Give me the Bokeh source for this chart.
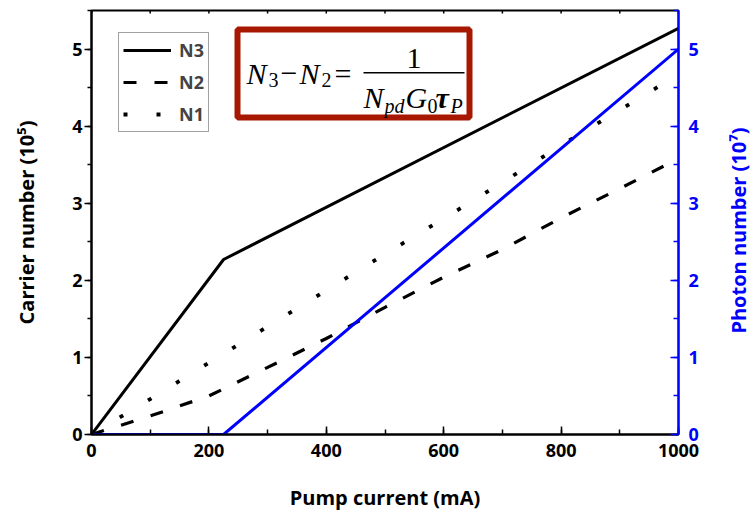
import math
from bokeh.plotting import figure
from bokeh.models import (Range1d, LinearAxis, SingleIntervalTicker, Legend,
                          LegendItem, Label, BoxAnnotation)
from bokeh.embed import file_html
from bokeh.resources import INLINE

# ---------------- data ----------------
current = [0, 100, 200, 300, 400, 500, 600, 700, 800, 900, 1000]
n1 = [0, 0.46, 0.93, 1.40, 1.87, 2.34, 2.80, 3.27, 3.75, 4.21, 4.67]
n2 = [0, 0.24, 0.50, 0.87, 1.245, 1.65, 2.04, 2.40, 2.81, 3.19, 3.58]
n3_current = [0, 225, 1000]
n3 = [0, 2.27, 5.27]
photon_current = [0, 225, 1000]
photon = [0, 0, 5.0]
top_ticks = [0, 100, 200, 300, 400, 500, 600, 700, 800, 900, 1000]

x_label = "Pump current (mA)"
y_label = "Carrier number (10\u2075)"
y2_label = "Photon number (10\u2077)"
legend_labels = ["N3", "N2", "N1"]

BLUE = "#0000FF"
FONT = "Open Sans"
Y_MAX = 5.5

p = figure(width=756, height=513,
           min_border_left=91, min_border_right=78,
           min_border_top=10, min_border_bottom=79,
           x_range=Range1d(0, 1000), y_range=Range1d(0, Y_MAX),
           output_backend="svg", toolbar_location=None,
           x_axis_location=None, y_axis_location=None)
p.grid.visible = False
p.outline_line_color = "black"
p.outline_line_width = 2
p.background_fill_color = "white"
p.border_fill_color = "white"


def style_axis(ax, color, tin, tout, mtin, mtout):
    ax.axis_line_color = color
    ax.axis_line_width = 2
    ax.major_tick_line_color = color
    ax.minor_tick_line_color = color
    ax.major_tick_line_width = 1.5
    ax.minor_tick_line_width = 1.5
    ax.major_tick_in = tin
    ax.major_tick_out = tout
    ax.minor_tick_in = mtin
    ax.minor_tick_out = mtout
    ax.major_label_text_color = color
    ax.major_label_text_font = FONT
    ax.major_label_text_font_style = "bold"
    ax.major_label_text_font_size = "18px"
    ax.axis_label_text_font = FONT
    ax.axis_label_text_font_style = "bold"
    ax.axis_label_text_font_size = "20px"
    ax.axis_label_text_color = color


xb = LinearAxis(ticker=SingleIntervalTicker(interval=200, num_minor_ticks=2))
style_axis(xb, "black", 8, 0, 5, 0)
xb.major_label_standoff = 9
xb.axis_label = x_label
xb.axis_label_standoff = 24
p.add_layout(xb, "below")

yl = LinearAxis(ticker=SingleIntervalTicker(interval=1, num_minor_ticks=2))
style_axis(yl, "black", 0, 7, 0, 4)
yl.major_label_standoff = 2
yl.axis_label = y_label
yl.axis_label_standoff = 29
p.add_layout(yl, "left")

p.extra_y_ranges = {"ph": Range1d(0, Y_MAX)}
yr = LinearAxis(y_range_name="ph",
                ticker=SingleIntervalTicker(interval=1, num_minor_ticks=2))
style_axis(yr, BLUE, 8, 0, 5, 0)
yr.major_label_standoff = 10
p.add_layout(yr, "right")

# right-hand title, reading bottom to top, placed in the right side panel
p.add_layout(Label(x=37, y=204, x_units="screen", y_units="screen",
                   text=y2_label, angle=math.pi / 2, text_align="center",
                   text_baseline="middle", text_font=FONT,
                   text_font_style="bold", text_font_size="20px",
                   text_color=BLUE), "right")

# small ticks on the top frame edge, every 100 mA
p.segment(x0=top_ticks, y0=[Y_MAX] * len(top_ticks),
          x1=top_ticks, y1=[Y_MAX - 0.04] * len(top_ticks),
          line_color="black", line_width=1.5)

# ---------------- lines ----------------
r3 = p.line(n3_current, n3, line_color="black", line_width=3)
r2 = p.line(current, n2, line_color="black", line_width=3.2,
            line_dash="13 18")
r1 = p.line(current, n1, line_color="black", line_width=3.8,
            line_dash="4 29")
rp = p.line(photon_current, photon, y_range_name="ph",
            line_color=BLUE, line_width=3)

legend = Legend(items=[LegendItem(label=legend_labels[0], renderers=[r3]),
                       LegendItem(label=legend_labels[1], renderers=[r2]),
                       LegendItem(label=legend_labels[2], renderers=[r1])],
                location=(27, 302), margin=0, padding=4, spacing=6,
                glyph_width=48, glyph_height=26, label_height=26,
                label_standoff=8,
                label_text_font=FONT, label_text_font_style="bold",
                label_text_font_size="18px",
                border_line_color="#444444", border_line_width=1,
                background_fill_color="white", background_fill_alpha=1)
p.add_layout(legend)

# ---------------- formula box ----------------
p.add_layout(BoxAnnotation(left=146, right=378, top=405, bottom=317,
                           left_units="screen", right_units="screen",
                           top_units="screen", bottom_units="screen",
                           fill_color="white", fill_alpha=1,
                           line_color="#A81800", line_alpha=1,
                           line_width=6))
p.add_layout(BoxAnnotation(left=272, right=373, top=362.5, bottom=361,
                           left_units="screen", right_units="screen",
                           top_units="screen", bottom_units="screen",
                           fill_color="black", fill_alpha=1,
                           line_color=None))

SERIF = "Liberation Serif"
formula = [
    ("N", 155, 351, 30, "italic"),
    ("3", 177, 348, 20, "normal"),
    ("\u2212", 189, 351, 30, "normal"),
    ("N", 208, 351, 30, "italic"),
    ("2", 230, 348, 20, "normal"),
    ("=", 243, 351, 30, "normal"),
    ("1", 315, 366, 30, "normal"),
    ("N", 272, 327, 30, "italic"),
    ("pd", 293, 322, 20, "italic"),
    ("G", 314, 327, 30, "italic"),
    ("0", 336, 322, 20, "normal"),
    ("\u03c4", 344, 327, 30, "bold italic"),
    ("P", 359, 322, 20, "italic"),
]
for t, fx, fy, fs, st in formula:
    p.add_layout(Label(x=fx, y=fy + 0.33 * fs, x_units="screen",
                       y_units="screen",
                       text=t, text_align="left", text_baseline="alphabetic",
                       text_font=SERIF, text_font_style=st,
                       text_font_size=f"{fs}px", text_color="black"))

open("out.html", "w").write(file_html(p, INLINE))
